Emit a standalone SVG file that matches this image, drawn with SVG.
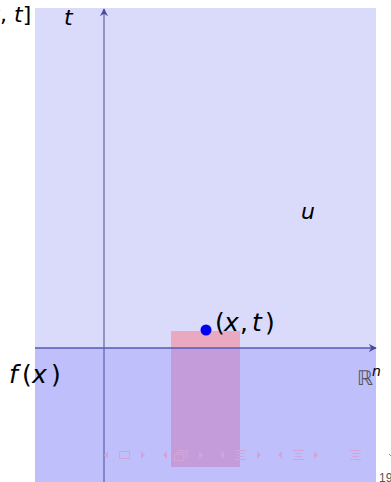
<svg xmlns="http://www.w3.org/2000/svg" width="391" height="482" viewBox="0 0 391 482">
<style>
.m{font-family:"DejaVu Sans","Liberation Sans",sans-serif;fill:#000}
.i{font-style:italic}
.nav{fill:none;stroke:#d4a4d8;stroke-width:1}
.navf{fill:#d4a4d8}
</style>
<defs>
<marker id="ah" viewBox="0 0 10 10" refX="9" refY="5" markerWidth="8" markerHeight="8" orient="auto" markerUnits="userSpaceOnUse">
<path d="M0,0 L10,5 L0,10 L3,5 Z" fill="#4a4a9a"/>
</marker>
</defs>
<rect width="391" height="482" fill="#fff"/>
<g id="upper-region"><rect x="35" y="8" width="341" height="340" fill="#dadafb"/></g>
<g id="lower-region"><rect x="35" y="348" width="341" height="134" fill="#bfbffb"/></g>
<g id="box">
<rect x="171" y="331" width="69" height="17" fill="#eba9c1"/>
<rect x="171" y="348" width="69" height="119" fill="#c39cd9"/>
</g>
<g id="connectors">
<line x1="104" y1="482" x2="104" y2="9" stroke="#4a4a9a" stroke-width="1" marker-end="url(#ah)"/>
<line x1="35" y1="348" x2="376" y2="348" stroke="#5a5ab0" stroke-width="1.3" marker-end="url(#ah)"/>
</g>
<g id="point"><circle cx="206" cy="330" r="5.5" fill="#0000ee"/></g>
<g id="labels">
<text class="m" x="-13" y="22" font-size="22"><tspan class="i">x</tspan>, <tspan class="i">t</tspan>]</text>
<text class="m i" x="64" y="25" font-size="22">t</text>
<text class="m i" x="301" y="219" font-size="22">u</text>
<text class="m" font-size="25"><tspan class="i" x="9" y="383">f</tspan><tspan x="22" y="383">(</tspan><tspan class="i" x="32" y="383">x</tspan><tspan x="51" y="383">)</tspan></text>
<text class="m" font-size="25"><tspan x="215" y="331">(</tspan><tspan class="i" x="224" y="331">x</tspan><tspan x="240" y="331">,</tspan><tspan class="i" x="252" y="331">t</tspan><tspan x="265" y="331">)</tspan></text>
<text x="357" y="385" font-family="DejaVu Sans,sans-serif" font-size="20" fill="#555">ℝ</text>
<text class="m i" x="372" y="376" font-size="14">n</text>
</g>
<g id="nav">
<path class="navf" d="M108,451 L104,455 L108,459 Z"/>
<rect class="nav" x="119.5" y="451.5" width="10" height="7"/>
<path class="navf" d="M141,451 L145,455 L141,459 Z"/>
<path class="navf" d="M167,451 L163,455 L167,459 Z"/>
<rect class="nav" x="174.5" y="454.5" width="9" height="6"/>
<path class="nav" d="M176.5,454.5 V452.5 H185.5 V458.5 H183.5 M178.5,452.5 V450.5 H187.5 V456.5 H185.5"/>
<path class="navf" d="M199,451 L203,455 L199,459 Z"/>
<path class="navf" d="M224,451 L220,455 L224,459 Z"/>
<path class="nav" d="M235,450.5 H246 M237,453.5 H244 M237,456.5 H244 M235,459.5 H246"/>
<path class="navf" d="M257,451 L261,455 L257,459 Z"/>
<path class="navf" d="M282,451 L278,455 L282,459 Z"/>
<path class="nav" d="M293,450.5 H304 M295,453.5 H302 M295,456.5 H302 M293,459.5 H304"/>
<path class="navf" d="M314,451 L318,455 L314,459 Z"/>
<path class="nav" d="M350,450.5 H361 M352,453.5 H359 M352,456.5 H359 M350,459.5 H361"/>
<path d="M389,454 L391,456" stroke="#e07070" stroke-width="1"/>
</g>
<text x="379" y="482" font-family="Liberation Sans,sans-serif" font-size="12" fill="#555">19</text>
</svg>
